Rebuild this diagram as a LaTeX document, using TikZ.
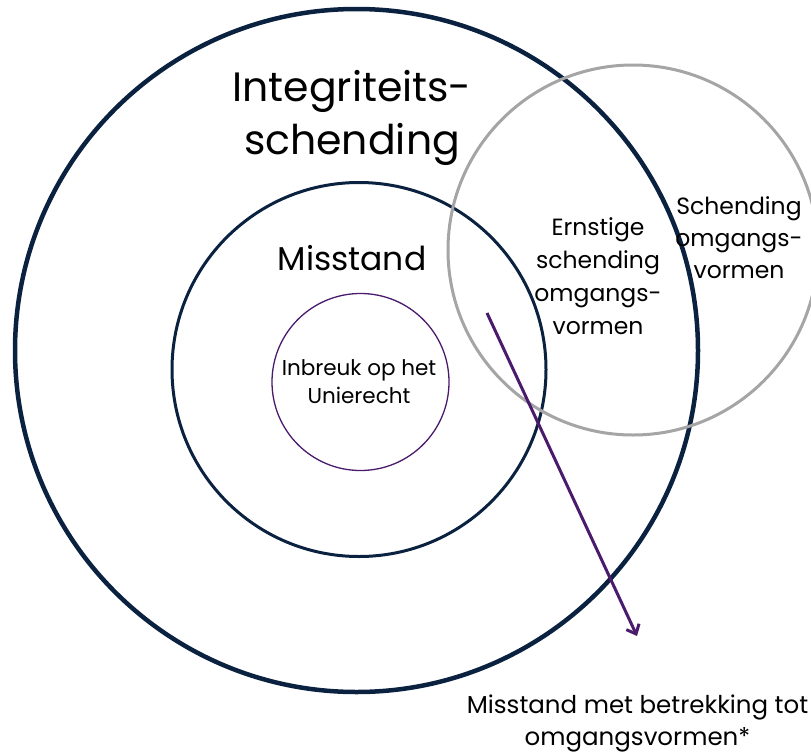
\documentclass[tikz,border=0pt]{standalone}
\usepackage{fontspec}
\setmainfont{Poppins}
\usetikzlibrary{arrows.meta}
\definecolor{navy}{HTML}{0B2140}
\definecolor{plum}{HTML}{4A1A6C}
\definecolor{greyc}{HTML}{A5A5A5}
\tikzset{
  ring/.style={circle, draw, inner sep=0pt},
  lbl/.style={align=center, text=black, inner sep=0pt},
}
\begin{document}
\begin{tikzpicture}[x=1pt,y=-1pt]
\useasboundingbox (0,0) rectangle (811,755);
\begin{scope}
\clip (0,0) rectangle (811,755);
\node[ring, draw=navy, line width=4.5pt, minimum size=683pt] (outer) at (356.5,350.5) {};
\node[ring, draw=navy, line width=3pt, minimum size=374pt] (mid) at (359,369.5) {};
\node[ring, draw=plum, line width=1.3pt, minimum size=177pt] (inner) at (360.5,382) {};
\node[ring, draw=greyc, line width=3pt, minimum size=370pt] (grey) at (633,250) {};
\end{scope}
\coordinate (as) at (487,313);
\coordinate (ae) at (637,636);
\draw[plum, line width=3pt, -{Straight Barb[length=8pt,width=14pt,line width=3pt]}] (as) -- (ae);
\node[lbl, font=\fontsize{41}{53}\selectfont] (integ) at (352,118) {Integriteits-\\schending};
\node[lbl, font=\fontsize{33}{34}\selectfont] (miss) at (352,258) {Misstand};
\node[lbl, font=\fontsize{21.5}{28}\selectfont] (inbr) at (359,382) {Inbreuk op het\\Unierecht};
\node[lbl, font=\fontsize{23.5}{33}\selectfont] (ernst) at (598,276) {Ernstige\\schending\\omgangs-\\vormen};
\node[lbl, font=\fontsize{23.5}{32}\selectfont] (schend) at (739,238) {Schending\\omgangs-\\vormen};
\node[lbl, font=\fontsize{24.5}{32}\selectfont] (bottom) at (637.5,723) {Misstand met betrekking tot\\omgangsvormen*};
\end{tikzpicture}
\end{document}
